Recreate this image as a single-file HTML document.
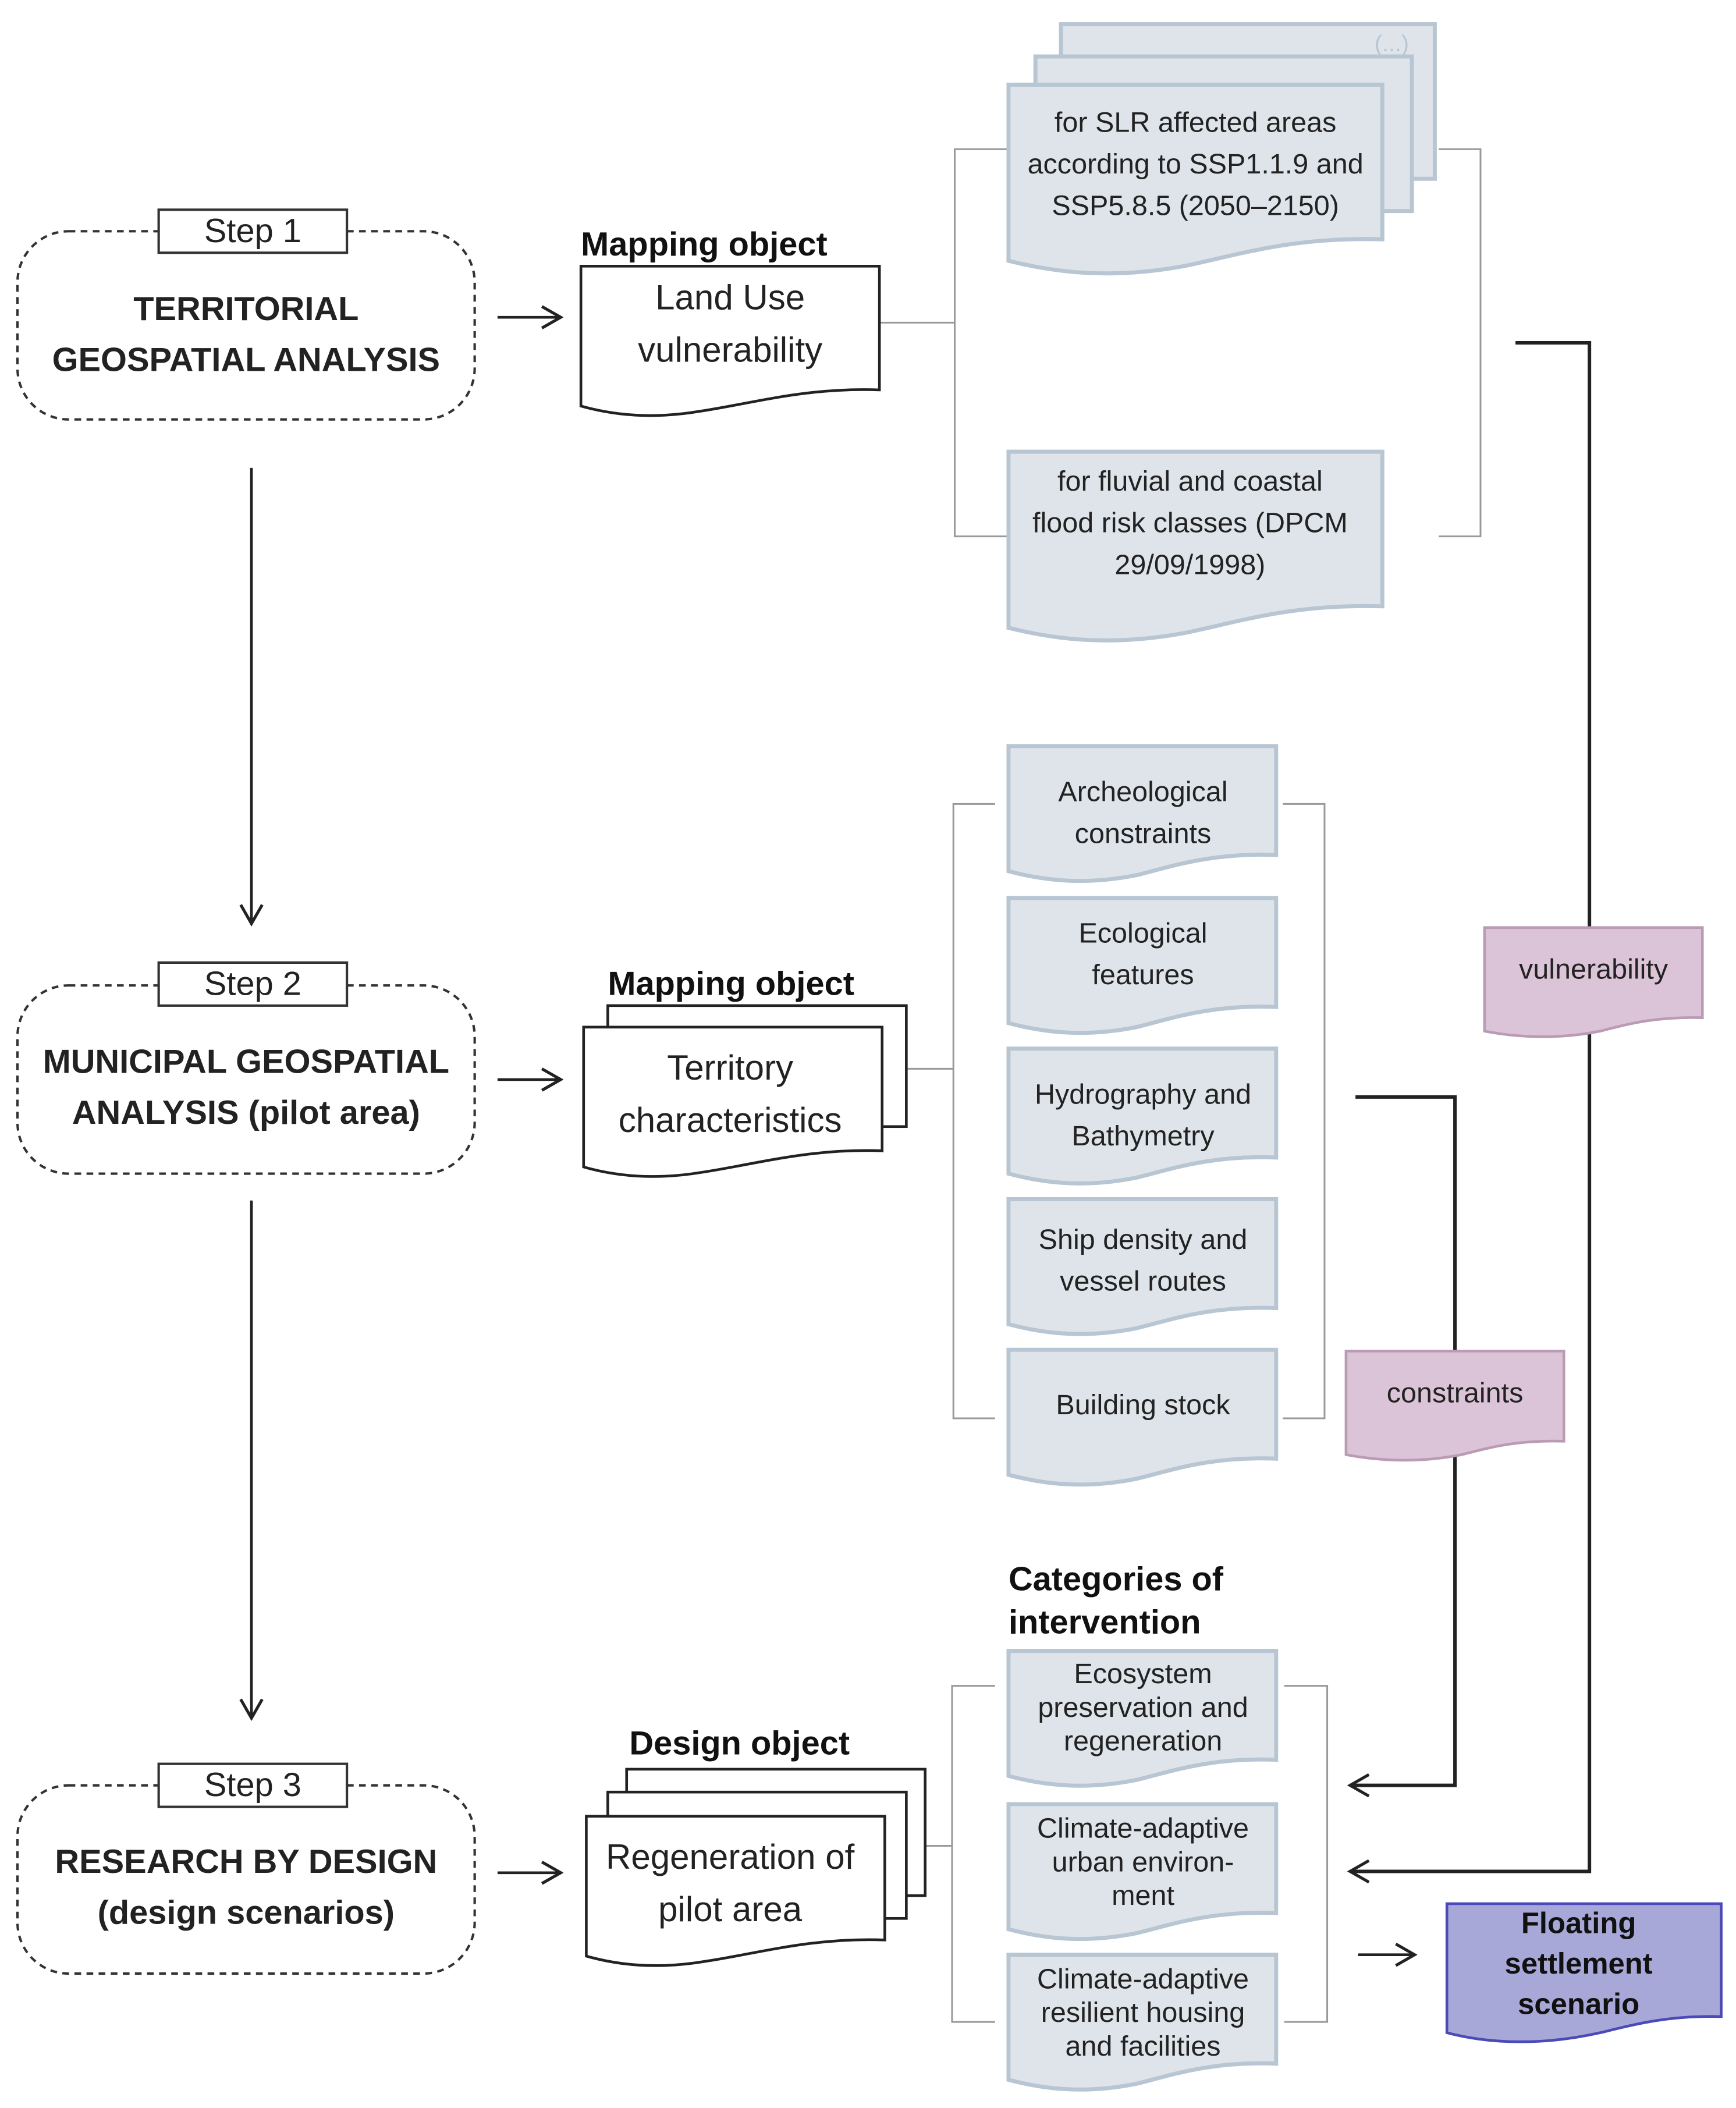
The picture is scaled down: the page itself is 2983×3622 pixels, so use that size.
<!DOCTYPE html>
<html><head><meta charset="utf-8"><style>html,body{margin:0;padding:0;background:#fff}svg{display:block}</style></head><body>
<svg width="2983" height="3622" viewBox="0 0 1291 1568" preserveAspectRatio="none" xmlns="http://www.w3.org/2000/svg" font-family="Liberation Sans, sans-serif">
<defs>
<marker id="ah" viewBox="0 0 20 20" refX="18" refY="10" markerWidth="20" markerHeight="20" markerUnits="userSpaceOnUse" orient="auto"><path d="M4 2 L18 10 L4 18" fill="none" stroke="#222" stroke-width="2.2"/></marker>
</defs>
<rect width="1291" height="1568" fill="#fff"/>
<g fill="none" stroke="#333" stroke-width="1.8" stroke-dasharray="5,4">
<rect x="13" y="172" width="340" height="140" rx="38"/>
<rect x="13" y="733" width="340" height="140" rx="38"/>
<rect x="13" y="1328" width="340" height="140" rx="38"/>
</g>
<g fill="#fff" stroke="#333" stroke-width="1.8">
<rect x="118" y="156" width="140" height="32"/>
<rect x="118" y="716" width="140" height="32"/>
<rect x="118" y="1312" width="140" height="32"/>
</g>
<g font-size="25" fill="#222" text-anchor="middle">
<text x="188" y="180">Step 1</text><text x="188" y="740">Step 2</text><text x="188" y="1336">Step 3</text>
</g>
<g font-size="25" font-weight="bold" fill="#222" text-anchor="middle">
<text x="183" y="238">TERRITORIAL</text><text x="183" y="276">GEOSPATIAL ANALYSIS</text>
<text x="183" y="798">MUNICIPAL GEOSPATIAL</text><text x="183" y="836">ANALYSIS (pilot area)</text>
<text x="183" y="1393">RESEARCH BY DESIGN</text><text x="183" y="1431">(design scenarios)</text>
</g>
<g stroke="#222" stroke-width="2" fill="none" marker-end="url(#ah)">
<line x1="187" y1="348" x2="187" y2="687"/>
<line x1="187" y1="893" x2="187" y2="1278"/>
<line x1="370" y1="236" x2="417" y2="236"/>
<line x1="370" y1="803" x2="417" y2="803"/>
<line x1="370" y1="1393" x2="417" y2="1393"/>
<line x1="1010" y1="1454" x2="1052" y2="1454"/>
<polyline points="1127,255 1182,255 1182,1392 1004,1392" stroke-width="2.6"/>
<polyline points="1008,816 1082,816 1082,1328 1004,1328" stroke-width="2.6"/>
</g>
<g font-size="25" font-weight="bold" fill="#111">
<text x="432" y="190">Mapping object</text>
<text x="452" y="740">Mapping object</text>
<text x="468" y="1305">Design object</text>
<text x="750" y="1183">Categories of</text>
<text x="750" y="1215">intervention</text>
</g>
<g stroke="#999" stroke-width="1.3" fill="none">
<polyline points="654,240 710,240"/><polyline points="750,111 710,111 710,399 750,399"/>
<polyline points="1070,111 1101,111 1101,399 1070,399"/>
<polyline points="675,795 709,795"/><polyline points="740,598 709,598 709,1055 740,1055"/>
<polyline points="954,598 985,598 985,1055 954,1055"/>
<polyline points="688,1373 708,1373"/><polyline points="740,1254 708,1254 708,1504 740,1504"/>
<polyline points="955,1254 987,1254 987,1504 955,1504"/>
</g>
<g fill="#fff" stroke="#222" stroke-width="2">
<path d="M432 198 H654 V290 C600 288 560 300 520 306 C490 311 460 310 432 302 Z"/>
<rect x="452" y="748" width="222" height="90"/>
<path d="M434 764 H656 V856 C602 854 562 866 522 872 C492 877 462 876 434 868 Z"/>
<rect x="466" y="1316" width="222" height="94"/>
<rect x="452" y="1333" width="222" height="94"/>
<path d="M436 1351 H658 V1443 C604 1441 564 1453 524 1459 C494 1464 464 1463 436 1455 Z"/>
</g>
<g font-size="26" fill="#222" text-anchor="middle">
<text x="543" y="230">Land Use</text><text x="543" y="269">vulnerability</text>
<text x="543" y="803">Territory</text><text x="543" y="842">characteristics</text>
<text x="543" y="1390">Regeneration of</text><text x="543" y="1429">pilot area</text>
</g>
<g fill="#dfe4ea" stroke="#b7c6d2" stroke-width="3">
<rect x="789" y="18" width="278" height="115"/>
<rect x="770" y="42" width="280" height="115"/>
<path d="M750 63 H1028 V178 C960 176 920 190 880 198 C830 207 790 204 750 194 Z"/>
<path d="M750 336 H1028 V451 C960 449 920 463 880 471 C830 480 790 477 750 467 Z"/>
<path d="M750 555 H949 V636 C900 634 870 645 845 651 C810 658 780 656 750 648 Z"/>
<path d="M750 668 H949 V749 C900 747 870 758 845 764 C810 771 780 769 750 761 Z"/>
<path d="M750 780 H949 V861 C900 859 870 870 845 876 C810 883 780 881 750 873 Z"/>
<path d="M750 892 H949 V973 C900 971 870 982 845 988 C810 995 780 993 750 985 Z"/>
<path d="M750 1004 H949 V1085 C900 1083 870 1094 845 1100 C810 1107 780 1105 750 1097 Z"/>
<path d="M750 1228 H949 V1309 C900 1307 870 1318 845 1324 C810 1331 780 1329 750 1321 Z"/>
<path d="M750 1342 H949 V1423 C900 1421 870 1432 845 1438 C810 1445 780 1443 750 1435 Z"/>
<path d="M750 1454 H949 V1535 C900 1533 870 1544 845 1550 C810 1557 780 1555 750 1547 Z"/>
</g>
<text x="1035" y="38" font-size="17" fill="#b7c6d2" text-anchor="middle">(...)</text>
<g font-size="21" fill="#222" text-anchor="middle">
<text x="889" y="98">for SLR affected areas</text><text x="889" y="129">according to SSP1.1.9 and</text><text x="889" y="160">SSP5.8.5 (2050–2150)</text>
<text x="885" y="365">for fluvial and coastal</text><text x="885" y="396">flood risk classes (DPCM</text><text x="885" y="427">29/09/1998)</text>
<text x="850" y="596">Archeological</text><text x="850" y="627">constraints</text>
<text x="850" y="701">Ecological</text><text x="850" y="732">features</text>
<text x="850" y="821">Hydrography and</text><text x="850" y="852">Bathymetry</text>
<text x="850" y="929">Ship density and</text><text x="850" y="960">vessel routes</text>
<text x="850" y="1052">Building stock</text>
<text x="850" y="1252">Ecosystem</text><text x="850" y="1277">preservation and</text><text x="850" y="1302">regeneration</text>
<text x="850" y="1367">Climate-adaptive</text><text x="850" y="1392">urban environ-</text><text x="850" y="1417">ment</text>
<text x="850" y="1479">Climate-adaptive</text><text x="850" y="1504">resilient housing</text><text x="850" y="1529">and facilities</text>
</g>
<g fill="#dcc4d8" stroke="#b99bb4" stroke-width="2">
<path d="M1104 690 H1266 V757 C1230 756 1210 762 1190 767 C1160 773 1130 772 1104 767 Z"/>
<path d="M1001 1005 H1163 V1072 C1127 1071 1107 1077 1087 1082 C1057 1088 1027 1087 1001 1082 Z"/>
</g>
<g font-size="21" fill="#222" text-anchor="middle">
<text x="1185" y="728">vulnerability</text>
<text x="1082" y="1043">constraints</text>
</g>
<path d="M1076 1416 H1280 V1500 C1240 1499 1215 1506 1190 1512 C1150 1521 1110 1521 1076 1512 Z" fill="#a8a8d8" stroke="#4a4ab8" stroke-width="2"/>
<g font-size="22" font-weight="bold" fill="#111" text-anchor="middle">
<text x="1174" y="1438">Floating</text><text x="1174" y="1468">settlement</text><text x="1174" y="1498">scenario</text>
</g>
</svg>
</body></html>
